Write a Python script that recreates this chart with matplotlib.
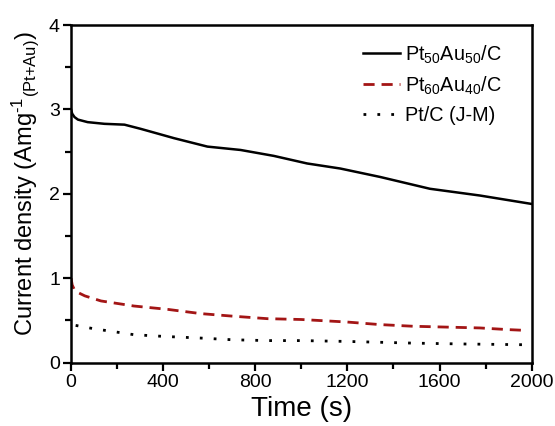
import matplotlib
matplotlib.use("Agg")
import matplotlib.pyplot as plt
from matplotlib.ticker import MultipleLocator

plt.rcParams['font.family'] = ['Liberation Sans', 'DejaVu Sans']
plt.rcParams['mathtext.fontset'] = 'custom'
plt.rcParams['mathtext.rm'] = 'Liberation Sans'
plt.rcParams['mathtext.it'] = 'Liberation Sans'
plt.rcParams['mathtext.default'] = 'regular'

# Data
t_ptau50 = [0, 5, 15, 30, 72, 145, 232, 303, 447, 592, 736, 880, 1025, 1169,
            1342, 1558, 1775, 2000]
j_ptau50 = [3.0, 2.95, 2.91, 2.88, 2.85, 2.83, 2.82, 2.77, 2.66, 2.56, 2.52, 2.45,
            2.36, 2.30, 2.20, 2.06, 1.98, 1.88]

t_ptau60 = [0, 5, 15, 30, 60, 130, 273, 420, 563, 700, 852, 1000, 1199, 1340,
            1485, 1630, 1775, 1900, 1980]
j_ptau60 = [1.0, 0.92, 0.86, 0.83, 0.79, 0.73, 0.67, 0.63, 0.58, 0.55, 0.52, 0.51,
            0.48, 0.45, 0.43, 0.42, 0.41, 0.39, 0.38]

t_ptc = [20, 100, 200, 273, 400, 563, 700, 852, 1000, 1200, 1485, 1700, 2000]
j_ptc = [0.44, 0.40, 0.36, 0.33, 0.31, 0.29, 0.27, 0.26, 0.26, 0.25, 0.23, 0.22, 0.21]

labels = ['Pt$_{50}$Au$_{50}$/C', 'Pt$_{60}$Au$_{40}$/C', 'Pt/C (J-M)']

fig = plt.figure(figsize=(5.55, 4.26), dpi=100)
ax = fig.add_axes([0.128, 0.149, 0.830, 0.792])

ax.plot(t_ptau50, j_ptau50, color='black', lw=1.8, label=labels[0])
ax.plot(t_ptau60, j_ptau60, color='#a31515', lw=2.0, dashes=(4, 2.5), label=labels[1])
ax.plot(t_ptc, j_ptc, color='black', lw=2.0, dashes=(1, 4), label=labels[2])

ax.set_xlim(0, 2000)
ax.set_ylim(0, 4)
ax.xaxis.set_major_locator(MultipleLocator(400))
ax.xaxis.set_minor_locator(MultipleLocator(200))
ax.yaxis.set_major_locator(MultipleLocator(1))
ax.yaxis.set_minor_locator(MultipleLocator(0.5))
ax.tick_params(which='both', direction='out', width=1.6, labelsize=14, pad=2)
ax.tick_params(which='major', length=6)
ax.tick_params(which='minor', length=4)
for s in ax.spines.values():
    s.set_linewidth(1.8)

ax.set_xlabel('Time (s)', fontsize=20, labelpad=4)
ax.set_ylabel(r'Current density (Amg$^{\text{-}1}$$_{\text{(Pt+Au)}}$)', fontsize=17)
ax.yaxis.set_label_coords(-0.065, 0.53)

leg = ax.legend(loc='upper right', frameon=False, fontsize=14.3, handlelength=1.86,
                handletextpad=0.25, labelspacing=0.45, borderaxespad=0,
                bbox_to_anchor=(0.952, 0.97))

fig.savefig('out.png', dpi=100)
